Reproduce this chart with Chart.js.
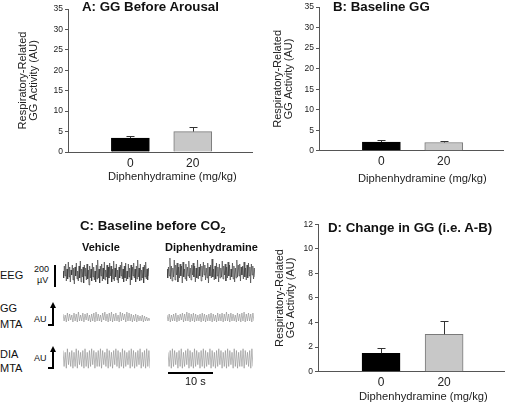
<!DOCTYPE html>
<html><head><meta charset="utf-8">
<script src="https://cdn.jsdelivr.net/npm/chart.js@4.4.0/dist/chart.umd.min.js"></script>
<style>
html,body{margin:0;padding:0;background:#fff;}
#wrap{position:relative;width:509px;height:403px;overflow:hidden;background:#fff;font-family:"Liberation Sans",Arial,sans-serif;color:#111;}
canvas{position:absolute;}
.t{position:absolute;white-space:nowrap;line-height:1;}
.pt{font-weight:bold;font-size:13.3px;}
.b11{font-weight:bold;font-size:11px;}
.n11{font-size:11px;}
.xt{font-size:11.2px;color:#222;}
.n9{font-size:9px;}
.sub{font-size:9px;position:relative;top:3px;}
.k{position:absolute;background:#000;}
.head{position:absolute;width:0;height:0;border-left:3px solid transparent;border-right:3px solid transparent;border-bottom:6px solid #000;}
</style></head>
<body><div id="wrap">
<canvas id="cA" width="255" height="190" style="left:0;top:0;width:255px;height:190px"></canvas>
<canvas id="cB" width="254" height="190" style="left:255px;top:0;width:254px;height:190px"></canvas>
<canvas id="cD" width="254" height="213" style="left:255px;top:190px;width:254px;height:213px"></canvas>

<canvas id="eegV" width="86" height="32" style="left:63px;top:257px;width:86px;height:32px"></canvas>
<canvas id="eegD" width="88" height="32" style="left:167px;top:256px;width:88px;height:32px"></canvas>
<canvas id="ggV" width="87" height="12" style="left:63px;top:311px;width:87px;height:12px"></canvas>
<canvas id="ggD" width="87" height="12" style="left:167px;top:311px;width:87px;height:12px"></canvas>
<canvas id="diaV" width="87" height="23" style="left:63px;top:347px;width:87px;height:23px"></canvas>
<canvas id="diaD" width="85" height="23" style="left:168px;top:347px;width:85px;height:23px"></canvas>

<div class="t pt" style="left:82px;top:0px">A: GG Before Arousal</div>
<div class="t pt" style="left:333px;top:0px">B: Baseline GG</div>
<div class="t pt" style="left:328px;top:220.5px">D: Change in GG (i.e. A-B)</div>
<div class="t pt" style="left:80px;top:218.5px">C: Baseline before CO<span class="sub">2</span></div>
<div class="t b11" style="left:82px;top:241.5px">Vehicle</div>
<div class="t b11" style="left:165px;top:241.5px">Diphenhydramine</div>

<div class="t xt" id="xtA" style="left:108px;top:171px"></div>
<div class="t xt" id="xtB" style="left:358px;top:173px"></div>
<div class="t xt" id="xtD" style="left:359px;top:390.5px"></div>

<div class="t n11" style="left:0;top:269.5px">EEG</div>
<div class="t n9" style="left:34px;top:265px">200</div>
<div class="t n9" style="left:37px;top:275.5px">µV</div>
<div class="k" style="left:54px;top:265px;width:2px;height:22px"></div>

<div class="t n11" style="left:0;top:302.5px">GG</div>
<div class="t n11" style="left:0;top:318.5px">MTA</div>
<div class="t n9" style="left:34px;top:314.5px">AU</div>
<div class="head" style="left:50px;top:302px"></div>
<div class="k" style="left:52px;top:307px;width:2px;height:18px"></div>
<div class="k" style="left:48px;top:323.5px;width:6px;height:2px"></div>

<div class="t n11" style="left:0;top:348.5px">DIA</div>
<div class="t n11" style="left:0;top:362.5px">MTA</div>
<div class="t n9" style="left:34px;top:354px">AU</div>
<div class="head" style="left:50px;top:346px"></div>
<div class="k" style="left:52px;top:351px;width:2px;height:18px"></div>
<div class="k" style="left:48px;top:367px;width:6px;height:2px"></div>

<div class="k" style="left:168px;top:372px;width:45px;height:2px"></div>
<div class="t n11" style="left:185px;top:375.5px">10 s</div>
</div>
<script>
// ---- data ----
const doses = ['0', '20'];
const xTitle = 'Diphenhydramine (mg/kg)';
const yTitle = ['Respiratory-Related', 'GG Activity (AU)'];
const beforeArousal = [3.4, 5.0];
const beforeArousalErr = [0.5, 1.2];
const baselineGG = [2.1, 2.0];
const baselineGGErr = [0.5, 0.35];
const changeGG = [1.5, 3.05];
const changeGGErr = [0.4, 1.05];

const eegVehicle = [2,-5,7,-3,9,-8,4,-6,11,-4,6,-9,3,-2,8,-7,5,-11,6,-3,10,-6,2,-8,7,-5,12,-9,4,-4,6,-10,8,-3,5,-7,9,-6,3,-12,7,-5,4,-8,10,-4,6,-7,2,-9,8,-6,13,-5,4,-10,7,-3,9,-8,5,-6,11,-7,3,-4,8,-11,6,-5,10,-3,7,-9,4,-6,12,-8,5,-4,9,-7,3,-10,6,-5,8,-3,11,-6,4,-9,7,-5,10,-8,2,-6,9,-4,5,-12,8,-7,6,-3,10,-5,4,-9,7,-6,13,-4,5,-8,9,-7,3,-5,6,-10,8,-4,11,-6,4,-7,5,-3];
const eegDiph = [3,-6,5,-4,14,-7,6,-9,4,-5,12,-8,7,-3,9,-10,5,-6,8,-4,6,-11,10,-5,3,-7,8,-9,5,-4,11,-6,4,-8,7,-3,9,-5,6,-10,4,-6,12,-7,5,-4,8,-9,6,-5,10,-3,7,-8,4,-6,9,-11,5,-4,7,-6,13,-5,3,-8,6,-7,9,-4,5,-10,8,-6,4,-5,11,-7,6,-3,8,-9,5,-6,10,-4,7,-8,3,-5,9,-7,6,-10,4,-6,12,-5,7,-4,8,-9,5,-3,6,-7,10,-5,4,-8,7,-6,9,-4,5,-11,8,-3,6,-7,4,-5];
const ggVehicle = [8,1,7,0,9,1,8,2,7,0,9,1,8,0,10,1,7,1,9,0,8,2,9,1,7,0,8,1,9,0,10,1,8,1,7,0,9,2,10,1,8,0,9,1,10,0,8,1,9,1,7,0,10,1,9,2,8,0,10,1,9,1,8,0,7,1,8,0,7,1,6,1,7,0,6,1,5,1,4,1];
const ggDiph = [7,1,8,0,7,1,8,1,9,0,7,1,8,2,9,0,8,1,10,1,9,0,8,1,9,0,8,1,7,1,8,0,9,1,8,0,7,1,8,1,9,0,8,1,7,0,9,1,8,1,9,0,8,1,10,1,8,0,9,1,8,1,7,0,9,1,8,0,9,1,10,0,8,1,9,1,8,0,9,1];
const diaVehicle = [10,1,9,0,11,2,9,1,10,0,9,1,11,0,10,2,9,1,10,0,11,1,9,0,10,1,11,2,10,0,9,1,10,1,11,0,10,2,9,1,11,0,10,1,9,0,10,2,11,1,10,0,9,1,11,0,10,1,9,2,10,0,11,1,10,0,9,1,10,2,11,0,9,1,10,0,11,1,10,0];
const diaDiph = [9,1,10,0,11,1,10,2,9,0,10,1,11,0,9,1,10,2,11,0,10,1,9,0,11,1,10,2,9,0,10,1,11,0,10,1,9,2,11,0,10,1,9,0,10,1,11,2,10,0,9,1,10,0,11,1,10,2,9,0,11,1,10,0,9,1,10,1,11,0,10,2,9,1,10,0,11,1];

// ---- style ----
Chart.defaults.font.family = "'Liberation Sans', Arial, sans-serif";
const axisColor = '#555';
const barFill = ['#000000', '#c8c8c8'];
const barEdge = ['#000000', '#7a7a7a'];

['xtA', 'xtB', 'xtD'].forEach(id => { document.getElementById(id).textContent = xTitle; });

const errPlugin = {id:'err', afterDatasetsDraw(chart){
  const ctx = chart.ctx, ys = chart.scales.y;
  chart.data.datasets.forEach((ds, di) => {
    const meta = chart.getDatasetMeta(di);
    meta.data.forEach((bar, i) => {
      const v = ds.data[i].y, e = ds.errors[i];
      const top = Math.round(ys.getPixelForValue(v + e)) + 0.5;
      const x = Math.round(bar.x) + 0.5;
      ctx.save(); ctx.strokeStyle = '#333'; ctx.lineWidth = 1;
      ctx.beginPath();
      ctx.moveTo(x, bar.y); ctx.lineTo(x, top);
      ctx.moveTo(x - 4, top); ctx.lineTo(x + 4, top);
      ctx.stroke(); ctx.restore();
    });
  });
}};

function barChart(id, vals, errs, c){
  return new Chart(document.getElementById(id), {
    type: 'bar',
    data: {datasets: [{data: doses.map((d, i) => ({x: i + 1, y: vals[i]})), errors: errs,
      backgroundColor: barFill, borderColor: barEdge, borderWidth: 1, borderSkipped: 'bottom', barThickness: 38}]},
    options: {
      responsive: false, animation: false, devicePixelRatio: 1,
      layout: {padding: {left: c.pl, right: c.pr, top: c.pt, bottom: c.pb}},
      plugins: {legend: {display: false}, tooltip: {enabled: false}, title: {display: false}},
      scales: {
        x: {type: 'linear', offset: false, min: 0, max: 2.95,
          grid: {display: false, drawTicks: false},
          border: {display: true, color: axisColor, width: 1},
          afterBuildTicks: s => { s.ticks = doses.map((d, i) => ({value: i + 1})); },
          ticks: {callback: v => doses[Math.round(v) - 1] ?? '', font: {size: 12}, color: '#222', padding: 4, autoSkip: false, maxRotation: 0},
          title: {display: false},
          afterFit: s => { s.height = c.xh; }
        },
        y: {min: 0, max: c.ymax,
          ticks: {stepSize: c.step, font: {size: 8.5}, color: '#222', padding: 2},
          grid: {display: true, drawOnChartArea: false, drawTicks: true, tickLength: 3, color: axisColor},
          border: {display: true, color: axisColor, width: 1},
          title: {display: true, text: yTitle, font: {size: 11, lineHeight: 1.05}, color: '#222', padding: {top: 0, bottom: 0}},
          afterFit: s => { s.width = c.yw; }
        }
      }
    },
    plugins: [errPlugin]
  });
}

barChart('cA', beforeArousal, beforeArousalErr, {pl: 17, pr: 3, pt: 9, pb: 8.5, yw: 51, xh: 29.5, ymax: 35, step: 5});
barChart('cB', baselineGG, baselineGGErr, {pl: 17, pr: 6, pt: 4, pb: 6.5, yw: 47, xh: 32.8, ymax: 35, step: 5});
barChart('cD', changeGG, changeGGErr, {pl: 19, pr: 5, pt: 34.3, pb: 0, yw: 44, xh: 31.3, ymax: 12, step: 2});

function trace(id, vals, color, lw, ymin, ymax){
  return new Chart(document.getElementById(id), {
    type: 'line',
    data: {labels: vals.map((_, i) => i), datasets: [{data: vals, borderColor: color, borderWidth: lw, pointRadius: 0, tension: 0, fill: false}]},
    options: {responsive: false, animation: false, devicePixelRatio: 1, layout: {padding: 0},
      plugins: {legend: {display: false}, tooltip: {enabled: false}},
      scales: {x: {display: false, offset: false}, y: {display: false, min: ymin, max: ymax}}}
  });
}
trace('eegV', eegVehicle, '#333', 0.6, -16, 16);
trace('eegD', eegDiph, '#333', 0.6, -16, 16);
trace('ggV', ggVehicle, '#8c8c8c', 0.6, -1, 11);
trace('ggD', ggDiph, '#8c8c8c', 0.6, -1, 11);
trace('diaV', diaVehicle, '#8c8c8c', 0.6, -1, 12);
trace('diaD', diaDiph, '#8c8c8c', 0.6, -1, 12);
</script>
</body></html>
